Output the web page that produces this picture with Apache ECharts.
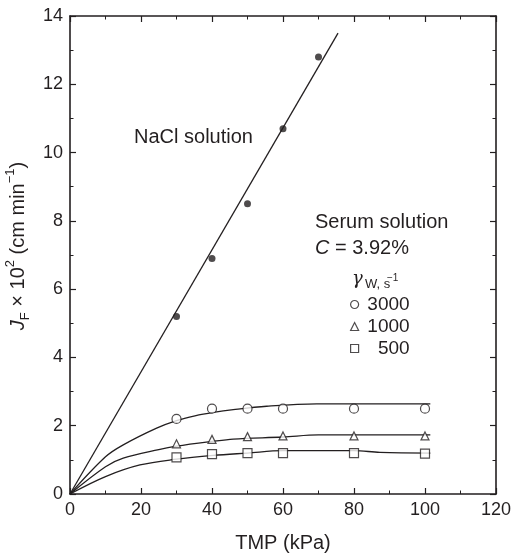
<!DOCTYPE html>
<html>
<head>
<meta charset="utf-8">
<script src="https://cdn.jsdelivr.net/npm/echarts@6/dist/echarts.min.js"></script>
<style>
    html, body { margin: 0; padding: 0; background: #fff; }
    #chart { width: 511px; height: 556px; }
</style>
</head>
<body>
<div id="chart"></div>
<script>
// NaCl solution: measured points and fitted line
var naclTmp = [30, 40, 50, 60, 70];
var naclFlux = [5.2, 6.9, 8.5, 10.7, 12.8];
var naclFitTmp = [0, 75.5];
var naclFitFlux = [0, 13.5];

// serum solution, C = 3.92%
var serumTmp = [30, 40, 50, 60, 80, 100];
var flux3000 = [2.2, 2.5, 2.5, 2.5, 2.5, 2.5];
var flux1000 = [1.47, 1.6, 1.68, 1.7, 1.7, 1.7];
var flux500 = [1.07, 1.17, 1.2, 1.2, 1.2, 1.18];

// hand drawn curves through the serum points
var curveTmp3000 = [0, 10, 15, 24.4, 30, 35.2, 40.4, 46, 55.4, 69.5, 101.5];
var curve3000 = [0, 1.09, 1.44, 1.93, 2.15, 2.29, 2.39, 2.47, 2.57, 2.64, 2.64];
var curveTmp1000 = [0, 10, 15, 25, 30, 40, 46, 60, 70, 101.5];
var curve1000 = [0, 0.8, 1.05, 1.3, 1.4, 1.54, 1.61, 1.67, 1.73, 1.73];
var curveTmp500 = [0, 10, 19.7, 30, 40.4, 50, 60, 80, 87.3, 101.5];
var curve500 = [0, 0.51, 0.85, 1.02, 1.13, 1.2, 1.27, 1.27, 1.22, 1.2];

var shearRates = ['3000', '1000', '500'];

var INK = '#231f20';
var FONT = 'Liberation Sans';

function pairs(xs, ys) {
    var out = [];
    for (var i = 0; i < xs.length; i++) {
        out.push([xs[i], ys[i]]);
    }
    return out;
}

function frameAxis(pos, max, interval, showLabel, extra) {
    var axis = {
        type: 'value',
        position: pos,
        min: 0,
        max: max,
        interval: interval,
        axisLine: { show: true, onZero: false, lineStyle: { color: INK, width: 1.6 } },
        axisTick: { show: true, inside: true, length: 6, lineStyle: { color: INK, width: 1.2 } },
        minorTick: { show: true, splitNumber: 2, length: 3.5, lineStyle: { color: INK, width: 1 } },
        splitLine: { show: false },
        axisLabel: { show: showLabel, color: INK, fontFamily: FONT, fontSize: 18, margin: 7 }
    };
    for (var k in extra) {
        axis[k] = extra[k];
    }
    return axis;
}

function curveSeries(name, xs, ys) {
    return {
        type: 'line',
        name: name + ' curve',
        data: pairs(xs, ys),
        smooth: 0.35,
        showSymbol: false,
        symbol: 'none',
        lineStyle: { color: INK, width: 1.3 },
        silent: true,
        z: 2
    };
}

function pointSeries(name, ys, symbol, size) {
    return {
        type: 'scatter',
        name: name,
        data: pairs(serumTmp, ys),
        symbol: symbol,
        symbolSize: size,
        itemStyle: { color: '#fff', borderColor: INK, borderWidth: 1.2 },
        z: 3
    };
}

var chart = echarts.init(document.getElementById('chart'), null, { renderer: 'canvas' });

var option = {
    animation: false,
    backgroundColor: '#fff',
    grid: { left: 70, right: 15, top: 16, bottom: 62, containLabel: false, outerBoundsMode: 'none' },
    xAxis: [
        frameAxis('bottom', 120, 20, true, {
            name: 'TMP (kPa)',
            nameLocation: 'middle',
            nameGap: 39,
            nameTextStyle: { color: INK, fontFamily: FONT, fontSize: 20 }
        }),
        frameAxis('top', 120, 20, false, {})
    ],
    yAxis: [
        frameAxis('left', 14, 2, true, {
            name: '{i|J}{sub|F}{n| × 10}{sup|2}{n| (cm min}{sup|−1}{n|)}',
            nameLocation: 'middle',
            nameGap: 37,
            nameTextStyle: {
                color: INK,
                fontFamily: FONT,
                fontSize: 20,
                padding: [0, 0, 0, 18],
                rich: {
                    n: { fontSize: 20, fontFamily: FONT, color: INK, lineHeight: 28 },
                    i: { fontSize: 20, fontFamily: FONT, color: INK, fontStyle: 'italic', lineHeight: 28 },
                    sub: { fontSize: 13, fontFamily: FONT, color: INK, verticalAlign: 'bottom', lineHeight: 15 },
                    sup: { fontSize: 13, fontFamily: FONT, color: INK, verticalAlign: 'top', lineHeight: 15 }
                }
            }
        }),
        frameAxis('right', 14, 2, false, {})
    ],
    legend: {
        orient: 'vertical',
        left: 345,
        top: 290,
        itemGap: 3,
        itemWidth: 8,
        itemHeight: 8,
        selectedMode: false,
        data: [
            { name: shearRates[0], icon: 'circle' },
            { name: shearRates[1], icon: 'triangle' },
            { name: shearRates[2], icon: 'rect' }
        ],
        itemStyle: { color: '#fff', borderColor: INK, borderWidth: 1.2 },
        formatter: function (name) {
            return '{v|' + name + '}';
        },
        textStyle: {
            color: INK,
            fontFamily: FONT,
            fontSize: 19,
            rich: {
                v: { width: 46, align: 'right', fontSize: 19, fontFamily: FONT, color: INK, lineHeight: 20 }
            }
        }
    },
    graphic: [
        {
            type: 'text',
            left: 134,
            top: 127,
            style: { text: 'NaCl solution', fill: INK, font: '20px "Liberation Sans"' }
        },
        {
            type: 'text',
            left: 315,
            top: 212,
            style: { text: 'Serum solution', fill: INK, font: '20px "Liberation Sans"' }
        },
        {
            type: 'text',
            left: 315,
            top: 238,
            style: {
                text: '{i|C} = 3.92%',
                fill: INK,
                font: '20px "Liberation Sans"',
                rich: {
                    i: { fontStyle: 'italic', fontSize: 20, fontFamily: FONT, fill: INK }
                }
            }
        },
        {
            type: 'text',
            left: 352,
            top: 270,
            style: { text: 'γ', fill: INK, font: 'italic 18px "DejaVu Serif"' }
        },
        {
            type: 'text',
            left: 365,
            top: 278,
            style: { text: 'W, s', fill: INK, font: '13px "Liberation Sans"' }
        },
        {
            type: 'text',
            left: 387,
            top: 273,
            style: { text: '−1', fill: INK, font: '10px "Liberation Sans"' }
        }
    ],
    series: [
        {
            type: 'line',
            name: 'NaCl fit',
            data: pairs(naclFitTmp, naclFitFlux),
            symbol: 'none',
            lineStyle: { color: INK, width: 1.3 },
            silent: true,
            z: 2
        },
        {
            type: 'scatter',
            name: 'NaCl',
            data: pairs(naclTmp, naclFlux),
            symbol: 'circle',
            symbolSize: 7,
            itemStyle: { color: INK },
            z: 3
        },
        curveSeries(shearRates[0], curveTmp3000, curve3000),
        curveSeries(shearRates[1], curveTmp1000, curve1000),
        curveSeries(shearRates[2], curveTmp500, curve500),
        pointSeries(shearRates[0], flux3000, 'circle', 9),
        pointSeries(shearRates[1], flux1000, 'triangle', 8),
        pointSeries(shearRates[2], flux500, 'rect', 9)
    ]
};

chart.setOption(option);
</script>
</body>
</html>
